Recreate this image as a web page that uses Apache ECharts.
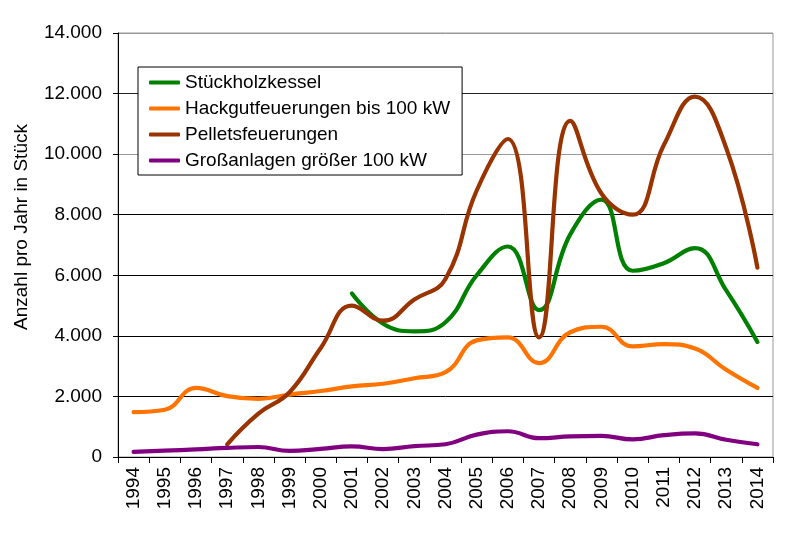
<!DOCTYPE html>
<html>
<head>
<meta charset="utf-8">
<script src="https://cdn.jsdelivr.net/npm/echarts@6/dist/echarts.min.js"></script>
<style>html,body{margin:0;padding:0;background:#fff}#c{width:800px;height:534px}</style>
</head>
<body>
<div id="c"></div>
<script>
const years = ['1994','1995','1996','1997','1998','1999','2000','2001','2002','2003','2004','2005','2006','2007','2008','2009','2010','2011','2012','2013','2014'];
const stueckholz = [null,null,null,null,null,null,null,5400,4400,4150,4450,6000,6950,4850,7350,8500,6150,6400,6900,5500,3800];
const hackgut = [1480,1560,2280,2010,1920,2060,2180,2330,2420,2600,2800,3850,3950,3100,4120,4300,3650,3730,3580,2880,2280];
const pellets = [null,null,null,420,1430,2140,3600,5000,4500,5200,5880,8800,10500,3950,11100,8700,8000,10300,11900,10200,6250];
const gross = [170,210,250,300,330,200,270,350,260,360,420,740,850,620,680,700,580,720,780,570,420];
const seriesNames = ['Stückholzkessel','Hackgutfeuerungen bis 100 kW','Pelletsfeuerungen','Großanlagen größer 100 kW'];
const yTicks = [0,2000,4000,6000,8000,10000,12000,14000];

const FONT = "'Liberation Sans', Arial, sans-serif";
const FS = 19;
const colors = ['#008000','#ff7300','#993300','#800080'];
const datas = [stueckholz, hackgut, pellets, gross];

function fmt(v){ if(v===0) return '0'; return (v/1000) + '.000'; }

const chart = echarts.init(document.getElementById('c'), null, {renderer:'canvas'});
chart.setOption({
  animation:false,
  backgroundColor:'#fff',
  textStyle:{fontFamily:FONT, color:'#000'},
  grid:{left:118,right:27,top:33,bottom:77,show:true,borderColor:'#999',borderWidth:1,backgroundColor:'transparent'},
  legend:{
    orient:'vertical', left:138, top:67,
    backgroundColor:'#fff', borderColor:'#000', borderWidth:1,
    padding:[6,12,5,11], itemGap:7, itemWidth:31, itemHeight:4.2,
    icon:'roundRect',
    textStyle:{fontFamily:FONT, fontSize:FS, color:'#000', lineHeight:19},
    data:seriesNames
  },
  graphic:[{
    type:'text', x:22, y:227, rotation:Math.PI/2,
    style:{text:'Anzahl pro Jahr in Stück', font:FS + 'px ' + FONT, fill:'#000', textAlign:'center', textVerticalAlign:'middle'}
  }],
  xAxis:{
    type:'category', data:years, boundaryGap:true,
    axisLine:{lineStyle:{color:'#000',width:1}},
    axisTick:{show:true,length:6,alignWithLabel:false,lineStyle:{color:'#000'}},
    axisLabel:{rotate:90,interval:0,margin:10,fontSize:FS,fontFamily:FONT,color:'#000'},
    splitLine:{show:false}
  },
  yAxis:{
    type:'value', min:yTicks[0], max:yTicks[yTicks.length-1], interval:2000,
    axisLine:{show:true,lineStyle:{color:'#000',width:1}},
    axisTick:{show:true,length:5,lineStyle:{color:'#000'}},
    axisLabel:{margin:16,fontSize:FS,fontFamily:FONT,color:'#000',formatter:fmt},
    splitLine:{show:true,lineStyle:{color:['#000','#000','#000','#000','#000','#999','#222','#999'],width:1}}
  },
  series: seriesNames.map((n,i)=>({
    name:n, type:'line', data:datas[i], smooth:0.45, symbol:'none', connectNulls:false,
    lineStyle:{color:colors[i], width:4.2, cap:'round', join:'round'},
    itemStyle:{color:colors[i]}
  }))
});
</script>
</body>
</html>
